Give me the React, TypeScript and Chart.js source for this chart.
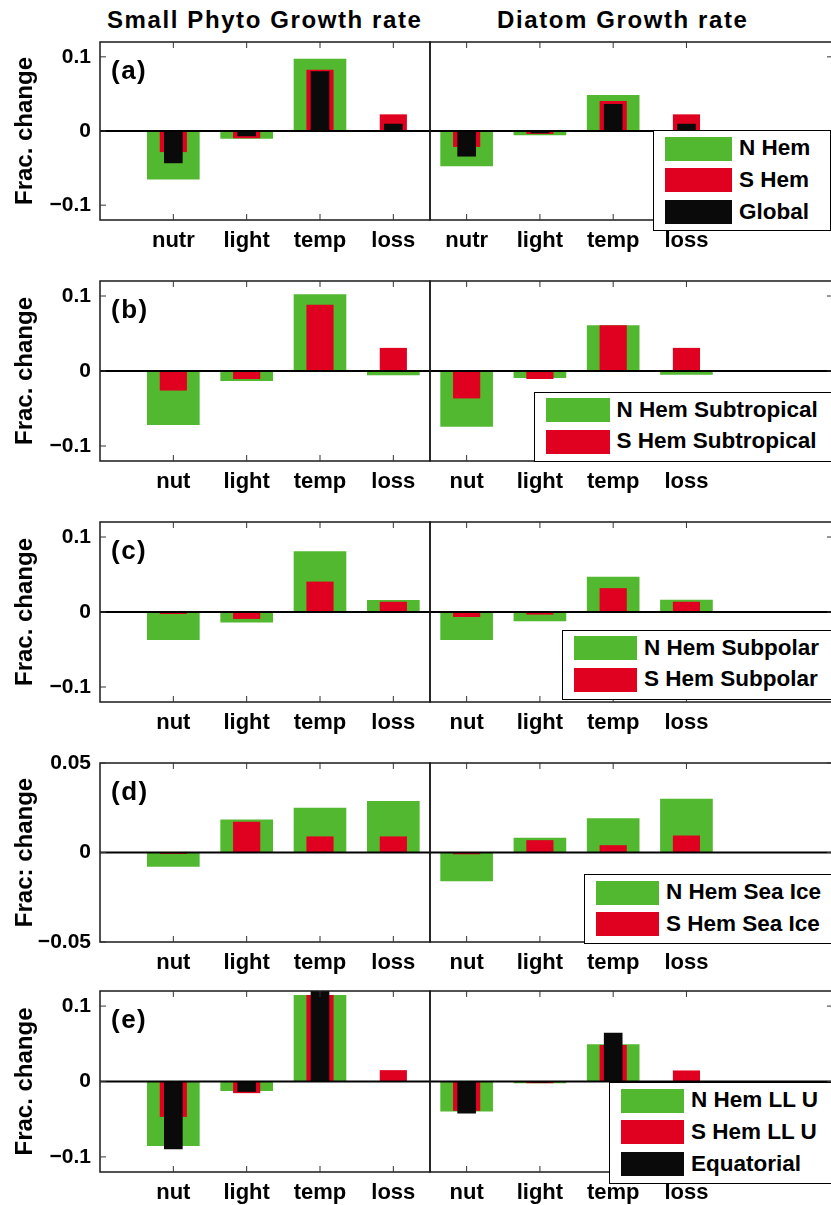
import React, { useEffect, useRef } from 'react';
import { Chart, registerables } from 'chart.js';

Chart.register(...registerables);

// ---------------- data ----------------
const categoriesNutr = ['nutr', 'light', 'temp', 'loss'];
const categoriesNut = ['nut', 'light', 'temp', 'loss'];
const categoryPositions = [1, 2, 3, 4];
const yTicksWide = [-0.1, 0, 0.1];
const yTicksNarrow = [-0.05, 0, 0.05];

// (a)
const aPhytoNHem = [-0.065, -0.010, 0.097, 0.0];
const aPhytoSHem = [-0.028, -0.0093, 0.082, 0.022];
const aPhytoGlobal = [-0.043, -0.0066, 0.080, 0.0093];
const aDiatomNHem = [-0.047, -0.0053, 0.048, 0.0];
const aDiatomSHem = [-0.021, -0.0035, 0.040, 0.022];
const aDiatomGlobal = [-0.034, -0.0026, 0.036, 0.0093];
// (b)
const bPhytoNHemSubtrop = [-0.0715, -0.0128, 0.102, -0.0053];
const bPhytoSHemSubtrop = [-0.0256, -0.0102, 0.088, 0.0304];
const bDiatomNHemSubtrop = [-0.074, -0.0088, 0.0604, -0.0044];
const bDiatomSHemSubtrop = [-0.0361, -0.0102, 0.0604, 0.0304];
// (c)
const cPhytoNHemSubpolar = [-0.037, -0.0137, 0.0807, 0.0154];
const cPhytoSHemSubpolar = [-0.0022, -0.0088, 0.0401, 0.0132];
const cDiatomNHemSubpolar = [-0.037, -0.0119, 0.0467, 0.0159];
const cDiatomSHemSubpolar = [-0.0062, -0.003, 0.0313, 0.0132];
// (d)
const dPhytoNHemSeaIce = [-0.0078, 0.0183, 0.0248, 0.0286];
const dPhytoSHemSeaIce = [-0.0006, 0.017, 0.0088, 0.0088];
const dDiatomNHemSeaIce = [-0.0159, 0.008, 0.0189, 0.0299];
const dDiatomSHemSeaIce = [-0.0008, 0.0067, 0.0039, 0.0093];
// (e)
const ePhytoNHemLLU = [-0.085, -0.012, 0.1142, 0.0];
const ePhytoSHemLLU = [-0.0465, -0.015, 0.1142, 0.0146];
const ePhytoEquatorial = [-0.0894, -0.0133, 0.125, 0.0];
const eDiatomNHemLLU = [-0.0394, -0.0018, 0.0491, 0.0];
const eDiatomSHemLLU = [-0.0385, -0.0018, 0.0478, 0.0142];
const eDiatomEquatorial = [-0.042, -0.001, 0.0642, 0.0];

const legendA = ['N Hem', 'S Hem', 'Global'];
const legendB = ['N Hem Subtropical', 'S Hem Subtropical'];
const legendC = ['N Hem Subpolar', 'S Hem Subpolar'];
const legendD = ['N Hem Sea Ice', 'S Hem Sea Ice'];
const legendE = ['N Hem LL U', 'S Hem LL U', 'Equatorial'];

const columnTitles = ['Small Phyto Growth rate', 'Diatom Growth rate'];
const panelLabels = ['(a)', '(b)', '(c)', '(d)', '(e)'];
const yTitles = ['Frac. change', 'Frac. change', 'Frac. change', 'Frac: change', 'Frac. change'];

// ---------------- styles / layout ----------------
const FONT = '"Liberation Sans", Arial, Helvetica, sans-serif';
const GREEN = '#52B830';
const RED = '#E0001F';
const BLACK = '#0A0A0A';
const COLORS = [GREEN, RED, BLACK];
const THICKNESS = [52, 26.5, 18];

const PAD_TOP = 15;
const X_AXIS_H = 42;
const rowTops = [42, 281, 522, 763, 991];
const rowBottoms = [220, 461, 702, 942, 1172];

Chart.defaults.font.family = FONT;
Chart.defaults.color = '#000';

const fmtTick = (v: number) => (v === 0 ? '0' : v < 0 ? '\u2212' + String(-v) : String(v));

const framePlugin = {
  id: 'panelFrame',
  afterDatasetsDraw(chart: any, _args: any, opts: any) {
    const { ctx, chartArea } = chart;
    const { left, right, top, bottom } = chartArea;
    const xs = chart.scales.x;
    const ys = chart.scales.y;
    const line = (x1: number, y1: number, x2: number, y2: number) => {
      ctx.beginPath();
      ctx.moveTo(x1, y1);
      ctx.lineTo(x2, y2);
      ctx.stroke();
    };
    ctx.save();
    // zero line
    ctx.strokeStyle = '#000';
    ctx.lineWidth = 2;
    const y0 = ys.getPixelForValue(0);
    line(left, y0, right, y0);
    // box
    ctx.lineWidth = 1.5;
    ctx.strokeStyle = '#1a1a1a';
    ctx.strokeRect(left, top, right - left, bottom - top);
    // inward ticks
    const tl = 6;
    ctx.lineWidth = 1;
    ctx.strokeStyle = '#333';
    xs.ticks.forEach((t: any) => {
      const px = xs.getPixelForValue(t.value);
      line(px, top, px, top + tl);
      line(px, bottom, px, bottom - tl);
    });
    ys.ticks.forEach((t: any) => {
      const py = ys.getPixelForValue(t.value);
      if (opts.side === 'left') line(left, py, left + tl, py);
      else line(right, py, right - tl, py);
    });
    // panel label
    if (opts.label) {
      ctx.fillStyle = '#000';
      ctx.font = 'bold 26px ' + FONT;
      ctx.textBaseline = 'alphabetic';
      ctx.textAlign = 'left';
      try { (ctx as any).letterSpacing = '1.5px'; } catch (e) {}
      ctx.fillText(opts.label, left + 11, top + 37);
    }
    ctx.restore();
  },
};

type PanelProps = {
  row: number;
  side: 'left' | 'right';
  categories: string[];
  seriesValues: number[][];
  seriesLabels: string[];
  yRange: number;
  yTicks: number[];
};

function Panel({ row, side, categories, seriesValues, seriesLabels, yRange, yTicks }: PanelProps) {
  const ref = useRef<HTMLCanvasElement>(null);
  const plotH = rowBottoms[row] - rowTops[row];
  const height = PAD_TOP + plotH + X_AXIS_H;
  const width = side === 'left' ? 440 : 425;
  const left = side === 'left' ? 0 : 420;
  const top = rowTops[row] - PAD_TOP;

  useEffect(() => {
    const chart = new Chart(ref.current as HTMLCanvasElement, {
      type: 'bar',
      data: {
        datasets: seriesValues.map((vals, si) => ({
          label: seriesLabels[si],
          data: vals.map((v, i) => ({ x: categoryPositions[i], y: v })),
          backgroundColor: COLORS[si],
          borderWidth: 0,
          barThickness: THICKNESS[si],
          grouped: false,
          order: 3 - si,
        })),
      },
      options: {
        animation: false,
        responsive: false,
        events: [],
        layout: {
          padding:
            side === 'left'
              ? { top: PAD_TOP, right: 10, left: 0, bottom: 0 }
              : { top: PAD_TOP, right: 12, left: 10, bottom: 0 },
        },
        plugins: {
          legend: { display: false },
          tooltip: { enabled: false },
          panelFrame: { side, label: side === 'left' ? panelLabels[row] : '' },
        },
        scales: {
          x: {
            type: 'linear',
            min: side === 'left' ? 0 : 0.5,
            max: side === 'left' ? 4.5 : 6,
            offset: false,
            grid: { display: false, drawTicks: false, offset: false },
            border: { display: false },
            afterBuildTicks: (s: any) => {
              s.ticks = categoryPositions.map((v) => ({ value: v }));
            },
            afterFit: (s: any) => {
              s.height = X_AXIS_H;
              s.paddingLeft = 0;
              s.paddingRight = 0;
              s.paddingTop = 0;
              s.paddingBottom = 0;
            },
            ticks: {
              autoSkip: false,
              maxRotation: 0,
              padding: 8,
              color: '#000',
              font: { family: FONT, size: 22, weight: 'bold' },
              callback: (_v: any, i: number) => categories[i],
            },
          },
          y: {
            type: 'linear',
            min: -yRange,
            max: yRange,
            grid: { display: false, drawTicks: false },
            border: { display: false },
            afterBuildTicks: (s: any) => {
              s.ticks = yTicks.map((v) => ({ value: v }));
            },
            afterFit: (s: any) => {
              s.width = side === 'left' ? 100 : 0;
              s.paddingTop = 0;
              s.paddingBottom = 0;
              s.paddingLeft = 0;
              s.paddingRight = 0;
            },
            ticks: {
              display: side === 'left',
              padding: 9,
              color: '#000',
              font: { family: FONT, size: 21, weight: 'bold' },
              callback: (v: any) => fmtTick(Number(v)),
            },
            title: {
              display: side === 'left',
              text: yTitles[row],
              color: '#000',
              font: { family: FONT, size: 24, weight: 'bold' },
              padding: { top: 10.5, bottom: 0 },
            },
          },
        },
      } as any,
      plugins: [framePlugin as any],
    });
    return () => chart.destroy();
  }, []);

  return (
    <canvas
      ref={ref}
      width={width}
      height={height}
      style={{ position: 'absolute', left, top, width, height, display: 'block' }}
    />
  );
}

type LegendBox = { left: number; top: number; width: number; height: number; swatchW: number; labels: string[] };

function Legend({ left, top, width, height, swatchW, labels }: LegendBox) {
  return (
    <div
      style={{
        position: 'absolute',
        left,
        top,
        width,
        height,
        boxSizing: 'border-box',
        border: '1.5px solid #000',
        background: '#fff',
      }}
    >
      {labels.map((lab, i) => (
        <div
          key={lab}
          style={{
            position: 'absolute',
            left: 11,
            top: 5.5 + i * 31.7,
            height: 24,
            display: 'flex',
            alignItems: 'center',
            whiteSpace: 'nowrap',
          }}
        >
          <div style={{ width: swatchW, height: 24, background: COLORS[i] }} />
          <div
            style={{
              marginLeft: 7,
              font: 'bold 22.5px ' + FONT,
              lineHeight: '1',
              color: '#000',
            }}
          >
            {lab}
          </div>
        </div>
      ))}
    </div>
  );
}

export default function App() {
  useEffect(() => {
    document.body.style.margin = '0';
  }, []);

  const rows = [
    { cats: categoriesNutr, leftVals: [aPhytoNHem, aPhytoSHem, aPhytoGlobal], rightVals: [aDiatomNHem, aDiatomSHem, aDiatomGlobal], labels: legendA, yr: 0.12, yt: yTicksWide },
    { cats: categoriesNut, leftVals: [bPhytoNHemSubtrop, bPhytoSHemSubtrop], rightVals: [bDiatomNHemSubtrop, bDiatomSHemSubtrop], labels: legendB, yr: 0.12, yt: yTicksWide },
    { cats: categoriesNut, leftVals: [cPhytoNHemSubpolar, cPhytoSHemSubpolar], rightVals: [cDiatomNHemSubpolar, cDiatomSHemSubpolar], labels: legendC, yr: 0.12, yt: yTicksWide },
    { cats: categoriesNut, leftVals: [dPhytoNHemSeaIce, dPhytoSHemSeaIce], rightVals: [dDiatomNHemSeaIce, dDiatomSHemSeaIce], labels: legendD, yr: 0.05, yt: yTicksNarrow },
    { cats: categoriesNut, leftVals: [ePhytoNHemLLU, ePhytoSHemLLU, ePhytoEquatorial], rightVals: [eDiatomNHemLLU, eDiatomSHemLLU, eDiatomEquatorial], labels: legendE, yr: 0.12, yt: yTicksWide },
  ];

  const legendBoxes = [
    { left: 653, top: 130, width: 178, height: 101, swatchW: 67 },
    { left: 534, top: 391.5, width: 310, height: 70.5, swatchW: 63.5 },
    { left: 561.5, top: 629.5, width: 290, height: 70.5, swatchW: 63.5 },
    { left: 583.5, top: 874, width: 270, height: 69.5, swatchW: 63.5 },
    { left: 608.5, top: 1082, width: 250, height: 101.5, swatchW: 63.5 },
  ];

  return (
    <div
      style={{
        position: 'absolute',
        left: 0,
        top: 0,
        width: 831,
        height: 1205,
        overflow: 'hidden',
        background: '#fff',
        fontFamily: FONT,
      }}
    >
      <div style={{ position: 'absolute', left: 107, top: 8, font: 'bold 24px ' + FONT, lineHeight: '24px', letterSpacing: '1.6px', whiteSpace: 'nowrap', color: '#000' }}>
        {columnTitles[0]}
      </div>
      <div style={{ position: 'absolute', left: 497, top: 8, font: 'bold 24px ' + FONT, lineHeight: '24px', letterSpacing: '1.6px', whiteSpace: 'nowrap', color: '#000' }}>
        {columnTitles[1]}
      </div>
      {rows.map((r, i) => (
        <React.Fragment key={i}>
          <Panel row={i} side="left" categories={r.cats} seriesValues={r.leftVals} seriesLabels={r.labels} yRange={r.yr} yTicks={r.yt} />
          <Panel row={i} side="right" categories={r.cats} seriesValues={r.rightVals} seriesLabels={r.labels} yRange={r.yr} yTicks={r.yt} />
        </React.Fragment>
      ))}
      {rows.map((r, i) => (
        <Legend key={'lg' + i} {...legendBoxes[i]} labels={r.labels} />
      ))}
    </div>
  );
}
